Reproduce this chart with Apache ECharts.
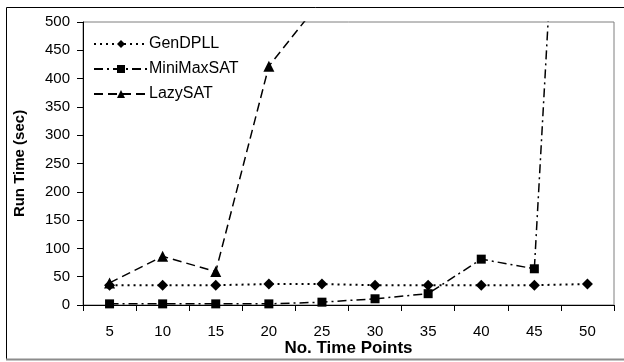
<!DOCTYPE html>
<html>
<head>
<meta charset="utf-8">
<script src="https://cdn.jsdelivr.net/npm/echarts@6/dist/echarts.min.js"></script>
<style>
  html, body { margin: 0; padding: 0; background: #fff; }
  #chart { width: 624px; height: 362px; }
</style>
</head>
<body>
<div id="chart"></div>
<script>
// data
const timePoints = ['5', '10', '15', '20', '25', '30', '35', '40', '45', '50']
const genDPLL = [35, 35, 35, 37, 37, 35, 35, 35, 35, 37]
const miniMaxSAT = [2, 2, 2, 2, 5, 11, 20, 81, 64, 1750]
const lazySAT = [39, 86, 59, 422, 540, null, null, null, null, null]

const font = 'Arial, "Liberation Sans", sans-serif'

const chart = echarts.init(document.getElementById('chart'), undefined, { renderer: 'canvas' })

const seriesBase = {
  type: 'line',
  clip: true,
  connectNulls: false,
  itemStyle: { color: '#000' },
}

chart.setOption({
  animation: false,
  backgroundColor: '#fff',
  textStyle: { fontFamily: font, color: '#000' },
  grid: {
    left: 83, right: 10, top: 22, bottom: 57,
    outerBoundsMode: 'none',
    show: true, borderColor: '#7f7f7f', borderWidth: 1,
  },
  legend: {
    orient: 'vertical',
    left: 88,
    top: 31,
    itemWidth: 54,
    itemHeight: 10,
    itemGap: 9,
    itemStyle: { color: '#000' },
    textStyle: { fontSize: 16, color: '#000', fontFamily: font, padding: [0, 0, 0, -4] },
    data: ['GenDPLL', 'MiniMaxSAT', 'LazySAT'],
  },
  xAxis: {
    type: 'category',
    data: timePoints,
    boundaryGap: true,
    name: 'No. Time Points',
    nameLocation: 'middle',
    nameGap: 35,
    nameMoveOverlap: false,
    nameTextStyle: { fontSize: 17, fontWeight: 'bold', color: '#000', fontFamily: font },
    axisLine: { lineStyle: { color: '#000', width: 1 } },
    axisTick: { show: true, alignWithLabel: false, length: 6, lineStyle: { color: '#000' } },
    axisLabel: { fontSize: 15, color: '#000', margin: 19, fontFamily: font },
    splitLine: { show: false },
  },
  yAxis: {
    type: 'value',
    min: 0,
    max: 500,
    interval: 50,
    name: 'Run Time (sec)',
    nameLocation: 'middle',
    nameGap: 56,
    nameRotate: 90,
    nameMoveOverlap: false,
    nameTextStyle: { fontSize: 15, fontWeight: 'bold', color: '#000', fontFamily: font },
    axisLine: { show: true, lineStyle: { color: '#000', width: 1 } },
    axisTick: { show: true, length: 6, lineStyle: { color: '#000' } },
    axisLabel: { fontSize: 15, color: '#000', margin: 13, fontFamily: font },
    splitLine: { show: false },
  },
  graphic: [
    {
      type: 'rect',
      silent: true,
      z: -1,
      shape: { x: 6.5, y: 7.5, width: 640, height: 352 },
      style: { fill: null, stroke: '#000', lineWidth: 1 },
    },
    {
      type: 'line',
      silent: true,
      shape: { x1: 6, y1: 359.5, x2: 624, y2: 359.5 },
      style: { stroke: '#8c8c8c', lineWidth: 2 },
    },
  ],
  series: [
    {
      ...seriesBase,
      name: 'GenDPLL',
      data: genDPLL,
      symbol: 'diamond',
      symbolSize: 11,
      lineStyle: { color: '#000', width: 2, type: [2, 4] },
    },
    {
      ...seriesBase,
      name: 'MiniMaxSAT',
      data: miniMaxSAT,
      symbol: 'rect',
      symbolSize: 9,
      lineStyle: { color: '#000', width: 1.5, type: [9, 4, 2, 4] },
    },
    {
      ...seriesBase,
      name: 'LazySAT',
      data: lazySAT,
      symbol: 'triangle',
      symbolSize: 11,
      lineStyle: { color: '#000', width: 1.5, type: [9, 5] },
    },
  ],
})
</script>
</body>
</html>
